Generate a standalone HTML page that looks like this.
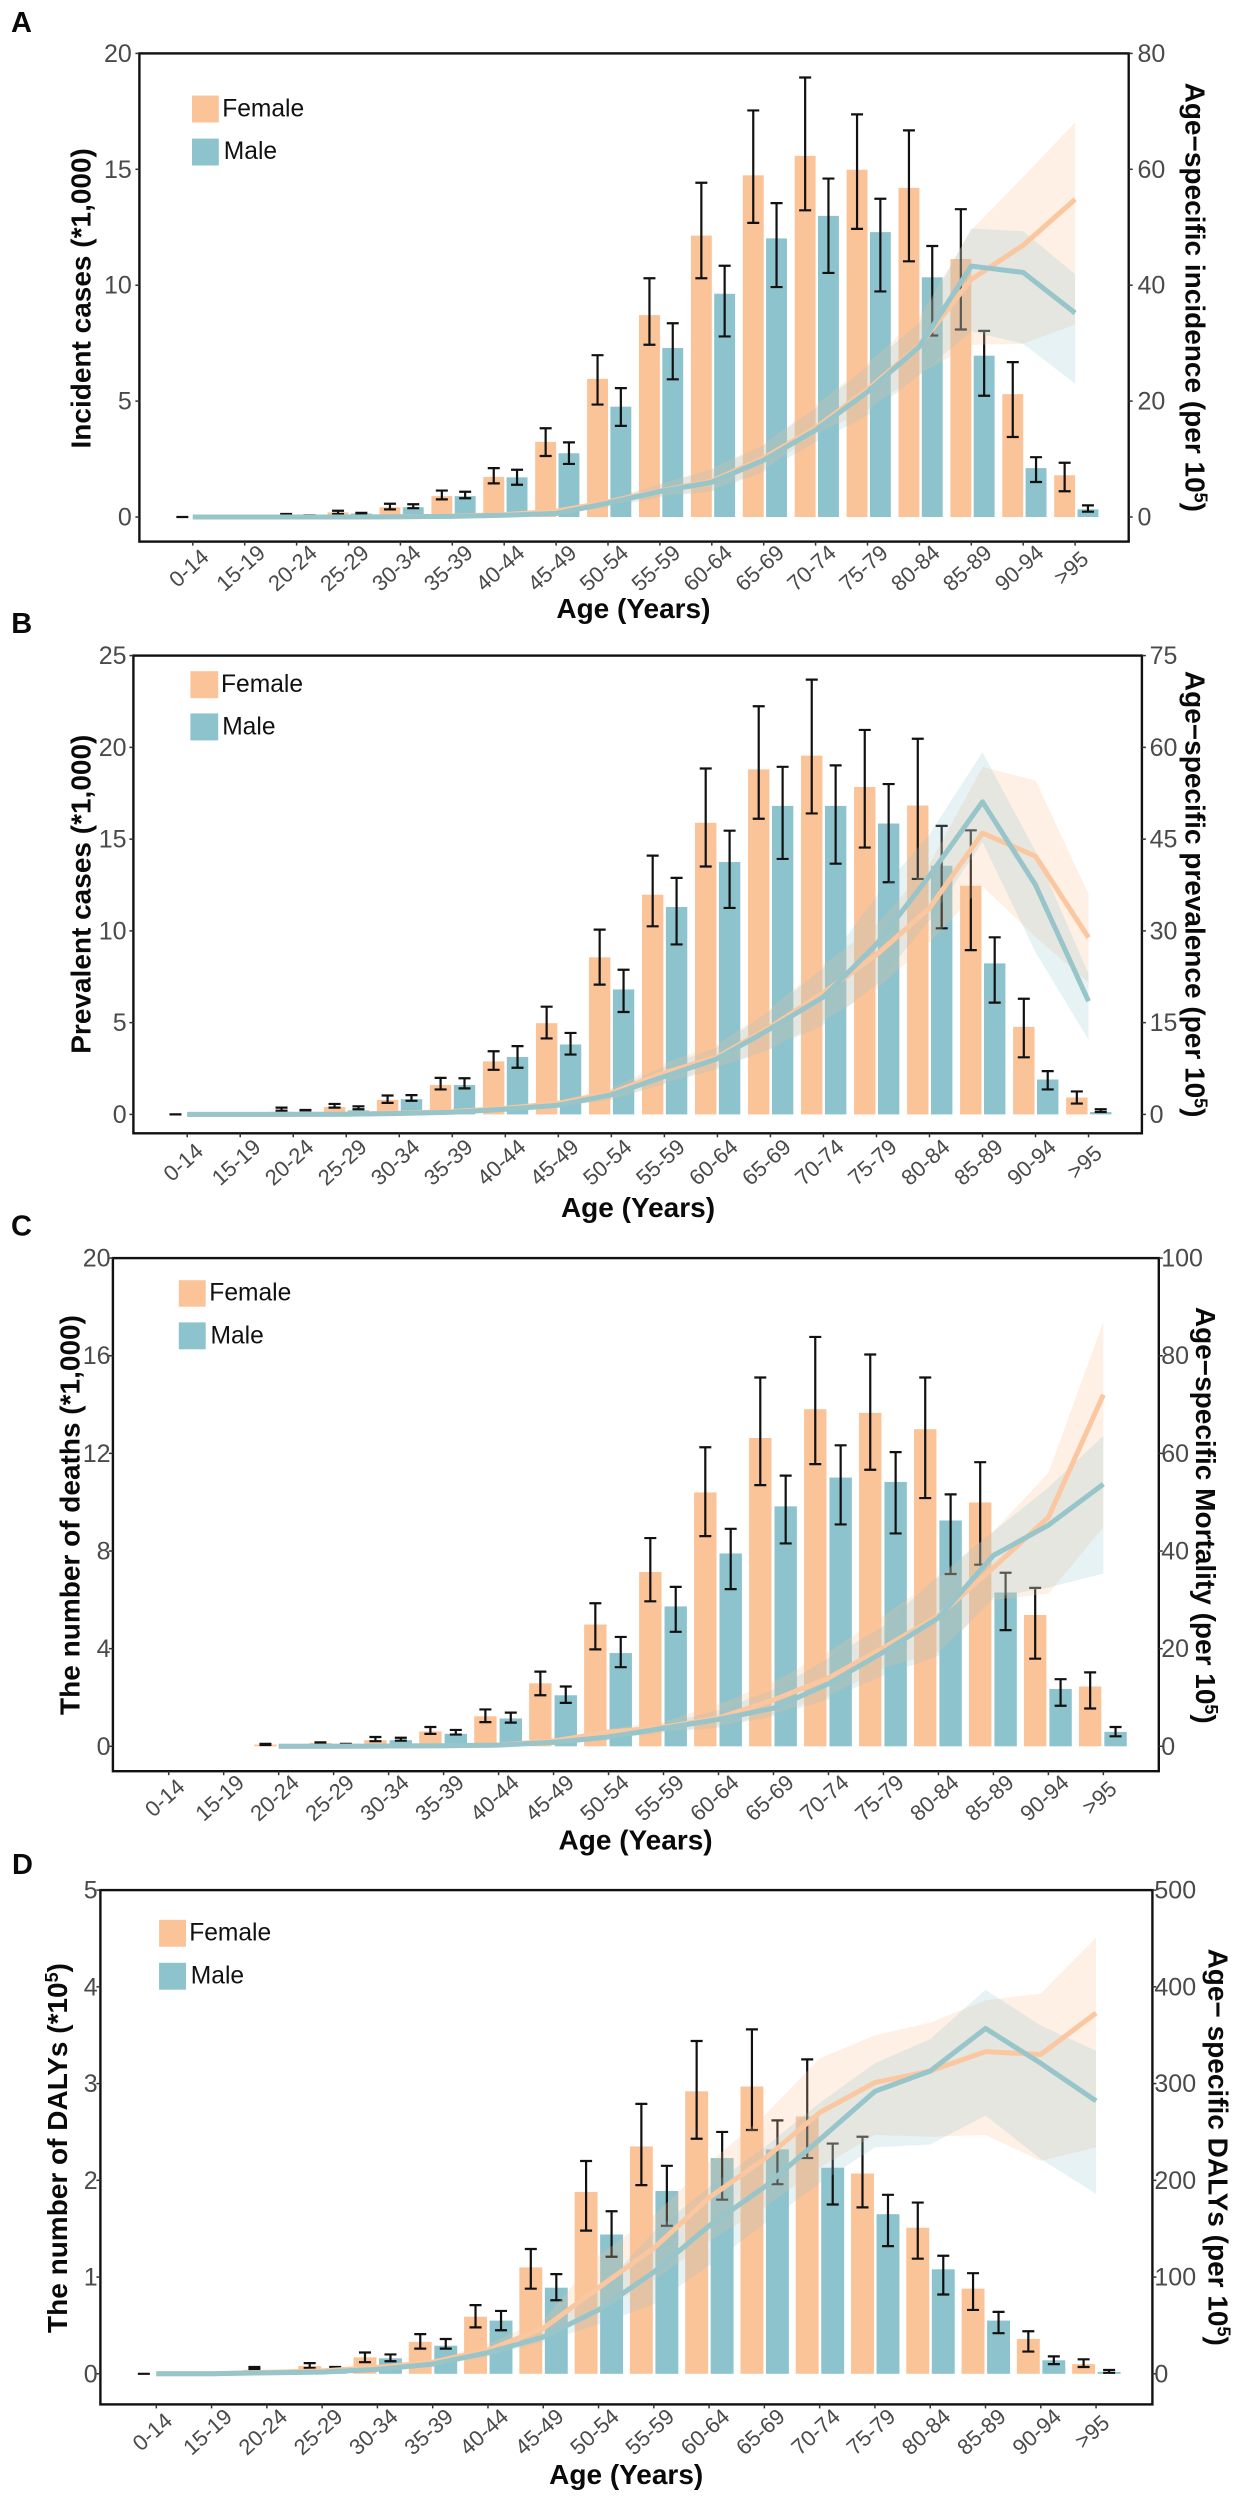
<!DOCTYPE html>
<html lang="en">
<head>
<meta charset="utf-8">
<title>Age-specific burden charts</title>
<style>
html,body{margin:0;padding:0;background:#fff;}
svg{display:block;font-family:"Liberation Sans",Arial,sans-serif;}
.title{font-weight:bold;font-size:28px;fill:#0a0a0a;text-anchor:middle;}
.letter{font-weight:bold;font-size:29px;fill:#0a0a0a;}
.leg{font-size:24.6px;fill:#111;}
.frame{fill:none;stroke:#111;stroke-width:2.4;}
</style>
</head>
<body>
<svg id="chart" xmlns="http://www.w3.org/2000/svg" width="1234" height="2500" viewBox="0 0 1234 2500">
<rect width="1234" height="2500" fill="#fff"/>

<g>
  <g id="marks-a"></g>
  <rect class="frame" x="139.4" y="53.4" width="989.3" height="488.2"/>
  <g id="ticks-a"></g>
  <text class="letter" x="11" y="32">A</text>
  <text class="title" transform="translate(90.4,298.3) rotate(-90)">Incident cases (*1,000)</text>
  <text class="title" transform="translate(1185.7,297.3) rotate(90)">Age−specific incidence (per 10<tspan dy="-9" font-size="18">5</tspan><tspan dy="9">)</tspan></text>
  <text class="title" x="633.4" y="618">Age (Years)</text>
  <g>
    <rect x="192" y="95.6" width="26.8" height="26.9" fill="#FBC398"/>
    <text class="leg" x="222.2" y="116.5">Female</text>
    <rect x="192" y="138.6" width="26.8" height="26.9" fill="#8CC3CC"/>
    <text class="leg" x="223.8" y="159.1">Male</text>
  </g>
</g>

<g>
  <g id="marks-b"></g>
  <rect class="frame" x="133.4" y="655.6" width="1008.5" height="477.7"/>
  <g id="ticks-b"></g>
  <text class="letter" x="11.2" y="633">B</text>
  <text class="title" transform="translate(90.4,894.2) rotate(-90)">Prevalent cases (*1,000)</text>
  <text class="title" transform="translate(1185.3,894.2) rotate(90)">Age−specific prevalence (per 10<tspan dy="-9" font-size="18">5</tspan><tspan dy="9">)</tspan></text>
  <text class="title" x="638" y="1216.9">Age (Years)</text>
  <g>
    <rect x="190.4" y="671.2" width="27.8" height="27" fill="#FBC398"/>
    <text class="leg" x="221" y="692.1">Female</text>
    <rect x="190.4" y="713.4" width="27.8" height="27" fill="#8CC3CC"/>
    <text class="leg" x="222.2" y="734.3">Male</text>
  </g>
</g>

<g>
  <g id="marks-c"></g>
  <rect class="frame" x="112.9" y="1258.1" width="1045.9" height="513.1"/>
  <g id="ticks-c"></g>
  <text class="letter" x="11" y="1235.7">C</text>
  <text class="title" transform="translate(79.6,1515) rotate(-90)">The number of deaths (*1,000)</text>
  <text class="title" transform="translate(1195.8,1515.3) rotate(90)">Age−specific Mortality (per 10<tspan dy="-9" font-size="18">5</tspan><tspan dy="9">)</tspan></text>
  <text class="title" x="635.6" y="1849.5">Age (Years)</text>
  <g>
    <rect x="178.8" y="1280.2" width="26.9" height="26.5" fill="#FBC398"/>
    <text class="leg" x="209.3" y="1300.7">Female</text>
    <rect x="178.8" y="1322.4" width="26.9" height="26.9" fill="#8CC3CC"/>
    <text class="leg" x="210.5" y="1343.3">Male</text>
  </g>
</g>

<g>
  <g id="marks-d"></g>
  <rect class="frame" x="100.4" y="1890.1" width="1052" height="514.3"/>
  <g id="ticks-d"></g>
  <text class="letter" x="12" y="1874">D</text>
  <text class="title" transform="translate(67.1,2148) rotate(-90)">The number of DALYs (*10<tspan dy="-9" font-size="18">5</tspan><tspan dy="9">)</tspan></text>
  <text class="title" transform="translate(1208.6,2147.2) rotate(90)">Age− specific DALYs (per 10<tspan dy="-9" font-size="18">5</tspan><tspan dy="9">)</tspan></text>
  <text class="title" x="626.2" y="2483.9">Age (Years)</text>
  <g>
    <rect x="159.1" y="1919.8" width="26.9" height="26.9" fill="#FBC398"/>
    <text class="leg" x="189.2" y="1940.7">Female</text>
    <rect x="159.1" y="1962.8" width="26.9" height="26.9" fill="#8CC3CC"/>
    <text class="leg" x="190.8" y="1983.3">Male</text>
  </g>
</g>
</svg>

<script>
// ---- shared categories ----
const ageGroups = ['0-14','15-19','20-24','25-29','30-34','35-39','40-44','45-49','50-54','55-59','60-64','65-69','70-74','75-79','80-84','85-89','90-94','>95'];

// ---- Panel A: incident cases (*1,000) and incidence rate (per 10^5) ----
const aLeftTicks = [0,5,10,15,20];
const aRightTicks = [0,20,40,60,80];
const aFemaleCases = [0,null,.1,.2,.42,.9,1.73,3.24,5.96,8.71,12.14,14.74,15.58,14.98,14.2,11.13,5.3,1.8];
const aFemaleCasesHigh = [0,null,.13,.27,.57,1.14,2.11,3.83,6.98,10.3,14.42,17.54,18.96,17.37,16.68,13.28,6.68,2.34];
const aFemaleCasesLow = [0,null,.09,.13,.33,.76,1.45,2.63,4.85,7.43,10.3,12.69,13.23,12.43,11.03,8.09,3.45,1.11];
const aMaleCases = [null,null,.05,.15,.42,.9,1.71,2.75,4.76,7.29,9.63,12.02,12.99,12.29,10.34,6.96,2.11,.33];
const aMaleCasesHigh = [null,null,.07,.18,.55,1.09,2.04,3.22,5.56,8.36,10.84,13.54,14.6,13.73,11.69,8.03,2.58,.5];
const aMaleCasesLow = [null,null,.03,.12,.38,.81,1.39,2.29,3.93,5.94,7.79,9.92,10.53,9.73,7.83,5.23,1.51,.23];
const aFemaleRate = [0,0,0,0,.05,.15,.4,1,2.6,4.5,6.2,10.2,15.4,22,29.6,41,46.9,54.8];
const aFemaleRateHigh = [0,0,0,0,.1,.2,.5,1.2,3,5.7,8.4,12.6,19.2,26.5,34.4,49.5,58.7,68.1];
const aFemaleRateLow = [0,0,0,0,.03,.1,.3,.8,2,3.6,4.6,8.1,14.3,18.5,24.7,29.7,29.9,33.2];
const aMaleRate = [0,0,0,0,.05,.1,.3,.6,2.4,4.4,6,9.8,15,21.6,29.4,43.3,42.2,35.2];
const aMaleRateHigh = [0,0,0,0,.08,.2,.4,.9,2.8,5.6,8.2,12.4,18.8,26,33.5,49.8,49.3,41.9];
const aMaleRateLow = [0,0,0,0,.03,.08,.2,.4,1.7,3.4,4.4,7.8,12.9,17.5,24.5,32,29.9,23];

// ---- Panel B: prevalent cases (*1,000) and prevalence rate (per 10^5) ----
const bLeftTicks = [0,5,10,15,20,25];
const bRightTicks = [0,15,30,45,60,75];
const bFemaleCases = [0,null,.15,.4,.79,1.6,2.89,4.97,8.56,11.97,15.89,18.8,19.55,17.84,16.83,12.46,4.77,.92];
const bFemaleCasesHigh = [0,null,.37,.57,1.03,1.99,3.44,5.87,10.07,14.1,18.85,22.24,23.69,20.95,20.47,15.48,6.3,1.25];
const bFemaleCasesLow = [0,null,.2,.37,.63,1.36,2.43,4.14,7.07,10.25,13.51,16.11,16.4,14.54,12.83,8.95,3.11,.59];
const bMaleCases = [null,null,.1,.22,.83,1.6,3.13,3.81,6.81,11.3,13.75,16.81,16.81,15.85,13.55,8.23,1.9,.13];
const bMaleCasesHigh = [null,null,.24,.44,1.05,1.97,3.72,4.44,7.88,12.89,15.46,18.94,19.02,18,15.72,9.65,2.36,.28];
const bMaleCasesLow = [null,null,.22,.28,.74,1.42,2.54,3.26,5.58,9.26,11.25,13.92,13.66,12.65,10.14,6.09,1.36,.13];
const bFemaleRate = [0,0,0,.05,.2,.45,1,1.8,3.5,6.8,9.4,14.3,19.9,26.1,33.7,46,42.2,28.9];
const bFemaleRateHigh = [0,0,0,.08,.3,.6,1.3,2.3,4.3,8.4,11.4,17.3,24.5,31,40.9,56.8,54.6,36];
const bFemaleRateLow = [0,0,0,.03,.15,.35,.8,1.4,2.4,5.1,7.7,10.7,15.3,20.5,28.1,37.3,29,21.5];
const bMaleRate = [0,0,0,.03,.15,.35,.85,1.5,3.2,6.2,9.1,14,19.2,27.8,39,51.1,37.5,18.5];
const bMaleRateHigh = [0,0,0,.05,.2,.5,1.1,1.9,4,7.8,11,17,24,35.7,45.8,59.2,43,23];
const bMaleRateLow = [0,0,0,.02,.1,.25,.6,1.2,2.4,5,7.4,10.7,14.6,21.2,31.7,44.5,26.5,12.2];

// ---- Panel C: deaths (*1,000) and mortality rate (per 10^5) ----
const cLeftTicks = [0,4,8,12,16,20];
const cRightTicks = [0,20,40,60,80,100];
const cFemaleCases = [null,null,.07,.14,.25,.61,1.23,2.58,4.99,7.14,10.4,12.63,13.81,13.66,12.99,9.99,5.38,2.45];
const cFemaleCasesHigh = [null,null,.1,.16,.38,.79,1.51,3.06,5.86,8.53,12.25,15.11,16.77,16.05,15.11,11.64,6.49,3.03];
const cFemaleCasesLow = [null,null,.05,.12,.21,.51,.99,2.09,3.97,5.94,8.61,10.7,11.56,11.33,10.17,7.44,3.59,1.55];
const cMaleCases = [null,null,null,.06,.25,.51,1.14,2.09,3.82,5.73,7.9,9.83,11.01,10.83,9.25,6.3,2.35,.59];
const cMaleCasesHigh = [null,null,null,.1,.35,.67,1.38,2.45,4.48,6.53,8.91,11.09,12.33,12.05,10.32,7.11,2.75,.79];
const cMaleCasesLow = [null,null,null,.08,.23,.48,.97,1.78,3.24,4.69,6.44,8.31,9.09,8.72,7.06,4.76,1.66,.41];
const cFemaleRate = [null,null,0,.02,.05,.1,.25,1.1,2.9,3.9,5.8,9.5,14,20.2,26.7,36.6,46.9,72];
const cFemaleRateHigh = [null,null,0,.03,.08,.15,.35,1.4,3.6,5,8.6,13.2,19.3,26.7,34.6,44,56,87];
const cFemaleRateLow = [null,null,0,.01,.03,.07,.15,.8,2.2,3,4.1,6.6,10.3,16,19.3,30,31.3,44.9];
const cMaleRate = [null,null,0,.02,.05,.1,.25,.8,1.9,3.7,5.5,7.8,12.8,19.3,26.3,39.1,45.3,53.7];
const cMaleRateHigh = [null,null,0,.03,.07,.15,.3,1,2.4,4.6,7.4,11.6,18,24.6,35,44,53,63.6];
const cMaleRateLow = [null,null,0,.01,.03,.07,.15,.6,1.4,2.8,3.8,6.2,9.6,14.5,18.5,30.5,32.5,35.4];

// ---- Panel D: DALYs (*10^5) and DALY rate (per 10^5) ----
const dLeftTicks = [0,1,2,3,4,5];
const dRightTicks = [0,100,200,300,400,500];
const dFemaleCases = [0,null,.04,.08,.17,.33,.59,1.1,1.88,2.35,2.92,2.97,2.66,2.07,1.51,.88,.36,.1];
const dFemaleCasesHigh = [0,null,.07,.11,.22,.41,.71,1.29,2.2,2.79,3.44,3.56,3.25,2.45,1.77,1.04,.44,.15];
const dFemaleCasesLow = [0,null,.05,.06,.12,.26,.48,.88,1.48,1.95,2.43,2.52,2.23,1.72,1.19,.66,.23,.07];
const dMaleCases = [null,null,.01,.03,.16,.29,.55,.89,1.44,1.89,2.23,2.32,2.13,1.65,1.08,.55,.14,.02];
const dMaleCasesHigh = [null,null,.02,.07,.2,.36,.65,1.03,1.68,2.15,2.5,2.62,2.38,1.85,1.22,.64,.18,.04];
const dMaleCasesLow = [null,null,.02,.06,.13,.26,.45,.76,1.21,1.53,1.8,1.96,1.75,1.32,.82,.42,.1,.01];
const dFemaleRate = [0,0,1.5,3,6.6,12,24.5,47,89,130,182,222,270,301,313,333,330,373];
const dFemaleRateHigh = [0,0,2,4,8,14,31,56,122,164,218,267,326,350,363,386,393,451];
const dFemaleRateLow = [0,0,1,2,5,10,18,37,64,97,137,172,213,247,245,247,220,234];
const dMaleRate = [0,0,1,1.7,4.6,10,22,38,66,105,153,193,242,292,313,357,321,282];
const dMaleRateHigh = [0,0,1.5,2.5,6,12,26,47,85,147,193,234,280,321,346,397,360,334];
const dMaleRateLow = [0,0,.7,1.2,3.5,8,18,33,51,72,112,155,197,234,237,267,222,186];

// ---- drawing ----
const SVG_NS = 'http://www.w3.org/2000/svg';
const BAR_F = '#FBC398', BAR_M = '#8CC3CC', LINE_F = '#FAC7A0', LINE_M = '#97C5C9';

function make(tag, parent, attrs) {
  const node = document.createElementNS(SVG_NS, tag);
  for (const k in attrs) node.setAttribute(k, attrs[k]);
  parent.appendChild(node);
  return node;
}

function drawPanel(p) {
  const marks = document.getElementById('marks-' + p.id);
  const axes = document.getElementById('ticks-' + p.id);
  const xAt = i => p.tick0 + i * p.step;
  const yLeft = v => p.y0 - v * (p.y0 - p.top) / p.leftMax;
  const yRight = v => p.y0 - v * (p.y0 - p.top) / p.rightMax;

  // bars
  ageGroups.forEach((g, i) => {
    if (p.fCases[i] !== null && p.fCases[i] > 0) {
      const el = make('rect', marks, {x: xAt(i) - p.gapF - p.barW, y: yLeft(p.fCases[i]), width: p.barW, height: yLeft(0) - yLeft(p.fCases[i]), fill: BAR_F});
      
      
    }
    if (p.mCases[i] !== null && p.mCases[i] > 0) {
      const el = make('rect', marks, {x: xAt(i) + p.gapM, y: yLeft(p.mCases[i]), width: p.barW, height: yLeft(0) - yLeft(p.mCases[i]), fill: BAR_M});
      
      
    }
  });

  // error bars
  function errorBar(cx, hi, lo, name) {
    const d = 'M' + (cx - 6) + ' ' + yLeft(hi) + 'H' + (cx + 6) +
              'M' + cx + ' ' + yLeft(hi) + 'V' + yLeft(lo) +
              'M' + (cx - 6) + ' ' + yLeft(lo) + 'H' + (cx + 6);
    const el = make('path', marks, {d: d, fill: 'none', stroke: '#111', 'stroke-width': 2.2});
    
    
  }
  ageGroups.forEach((g, i) => {
    if (p.fHigh[i] !== null) errorBar(xAt(i) - p.gapF - p.barW / 2, p.fHigh[i], p.fLow[i], 'error-bar-female');
    if (p.mHigh[i] !== null) errorBar(xAt(i) + p.gapM + p.barW / 2, p.mHigh[i], p.mLow[i], 'error-bar-male');
  });

  // ribbons and rate lines
  function ribbon(high, low, fill, opacity, name) {
    const up = [], down = [];
    ageGroups.forEach((g, i) => {
      if (high[i] !== null) { up.push(xAt(i) + ' ' + yRight(high[i])); down.unshift(xAt(i) + ' ' + yRight(low[i])); }
    });
    const el = make('path', marks, {d: 'M' + up.concat(down).join('L') + 'Z', fill: fill, 'fill-opacity': opacity, stroke: 'none'});
    
    
  }
  function rateLine(values, color, name) {
    const pts = [];
    ageGroups.forEach((g, i) => { if (values[i] !== null) pts.push(xAt(i) + ' ' + yRight(values[i])); });
    const el = make('path', marks, {d: 'M' + pts.join('L'), fill: 'none', stroke: color, 'stroke-width': 5, 'stroke-linejoin': 'round'});
    
    
  }
  ribbon(p.fRateHigh, p.fRateLow, BAR_F, 0.25, 'ribbon-female');
  ribbon(p.mRateHigh, p.mRateLow, BAR_M, 0.22, 'ribbon-male');
  rateLine(p.fRate, LINE_F, 'line-female');
  rateLine(p.mRate, LINE_M, 'line-male');

  // left axis
  p.leftTicks.forEach(v => {
    const tick = make('line', axes, {x1: p.left - 4, x2: p.left, y1: yLeft(v), y2: yLeft(v), stroke: '#333', 'stroke-width': 1.5});
    
    
    const label = make('text', axes, {x: p.leftLabelX, y: yLeft(v) + 8.5, 'text-anchor': 'end', 'font-size': 25, fill: '#4a4a4a'});
    label.textContent = v;
    
    
  });
  // right axis
  p.rightTicks.forEach(v => {
    const tick = make('line', axes, {x1: p.right, x2: p.right + 4, y1: yRight(v), y2: yRight(v), stroke: '#333', 'stroke-width': 1.5});
    
    
    const label = make('text', axes, {x: p.rightLabelX, y: yRight(v) + 8.5, 'text-anchor': 'start', 'font-size': 25, fill: '#4a4a4a'});
    label.textContent = v;
    
    
  });
  // x axis
  ageGroups.forEach((g, i) => {
    const tick = make('line', axes, {x1: xAt(i), x2: xAt(i), y1: p.bottom, y2: p.bottom + 4, stroke: '#333', 'stroke-width': 1.5});
    
    
    const tx = xAt(i) + 1, ty = p.bottom + p.labelDy + 4.5;
    const label = make('text', axes, {transform: 'translate(' + tx + ',' + ty + ') rotate(-42)', 'text-anchor': 'middle', 'font-size': 22, fill: '#4a4a4a'});
    label.textContent = g;
    
    
  });
}

drawPanel({id: 'a', left: 139.4, right: 1128.7, top: 53.4, bottom: 541.6, y0: 517, leftMax: 20, rightMax: 80,
  tick0: 192.8, step: 51.9, barW: 20.9, gapF: 0, gapM: 2.4, leftLabelX: 131.8, rightLabelX: 1137.5, labelDy: 27.5,
  leftTicks: aLeftTicks, rightTicks: aRightTicks,
  fCases: aFemaleCases, fHigh: aFemaleCasesHigh, fLow: aFemaleCasesLow,
  mCases: aMaleCases, mHigh: aMaleCasesHigh, mLow: aMaleCasesLow,
  fRate: aFemaleRate, fRateHigh: aFemaleRateHigh, fRateLow: aFemaleRateLow,
  mRate: aMaleRate, mRateHigh: aMaleRateHigh, mRateLow: aMaleRateLow});

drawPanel({id: 'b', left: 133.4, right: 1141.9, top: 655.6, bottom: 1133.3, y0: 1114.4, leftMax: 25, rightMax: 75,
  tick0: 187.2, step: 53.02, barW: 21.4, gapF: 1, gapM: 1.5, leftLabelX: 126.6, rightLabelX: 1149.6, labelDy: 30,
  leftTicks: bLeftTicks, rightTicks: bRightTicks,
  fCases: bFemaleCases, fHigh: bFemaleCasesHigh, fLow: bFemaleCasesLow,
  mCases: bMaleCases, mHigh: bMaleCasesHigh, mLow: bMaleCasesLow,
  fRate: bFemaleRate, fRateHigh: bFemaleRateHigh, fRateLow: bFemaleRateLow,
  mRate: bMaleRate, mRateHigh: bMaleRateHigh, mRateLow: bMaleRateLow});

drawPanel({id: 'c', left: 112.9, right: 1158.8, top: 1258.1, bottom: 1771.2, y0: 1746.3, leftMax: 20, rightMax: 100,
  tick0: 168.7, step: 54.98, barW: 22.4, gapF: 2, gapM: 1, leftLabelX: 110.5, rightLabelX: 1161.2, labelDy: 27.7,
  leftTicks: cLeftTicks, rightTicks: cRightTicks,
  fCases: cFemaleCases, fHigh: cFemaleCasesHigh, fLow: cFemaleCasesLow,
  mCases: cMaleCases, mHigh: cMaleCasesHigh, mLow: cMaleCasesLow,
  fRate: cFemaleRate, fRateHigh: cFemaleRateHigh, fRateLow: cFemaleRateLow,
  mRate: cMaleRate, mRateHigh: cMaleRateHigh, mRateLow: cMaleRateLow});

drawPanel({id: 'd', left: 100.4, right: 1152.4, top: 1890.1, bottom: 2404.4, y0: 2373.8, leftMax: 5, rightMax: 500,
  tick0: 156.3, step: 55.28, barW: 22.9, gapF: 1, gapM: 1.6, leftLabelX: 97.6, rightLabelX: 1154.4, labelDy: 28.5,
  leftTicks: dLeftTicks, rightTicks: dRightTicks,
  fCases: dFemaleCases, fHigh: dFemaleCasesHigh, fLow: dFemaleCasesLow,
  mCases: dMaleCases, mHigh: dMaleCasesHigh, mLow: dMaleCasesLow,
  fRate: dFemaleRate, fRateHigh: dFemaleRateHigh, fRateLow: dFemaleRateLow,
  mRate: dMaleRate, mRateHigh: dMaleRateHigh, mRateLow: dMaleRateLow});
</script>
</body>
</html>
